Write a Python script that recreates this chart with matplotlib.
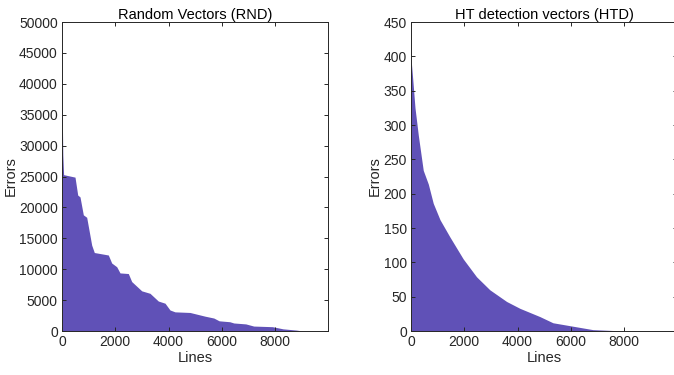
import matplotlib.pyplot as plt

# ======= values (line index, error count) =======
rnd_lines = [0, 10, 30, 60, 488, 590, 676, 800, 927, 1115, 1213, 1739, 1866,
             2054, 2178, 2490, 2617, 2993, 3304, 3616, 3868, 4055, 4243,
             4806, 5370, 5700, 5900, 6300, 6450, 6900, 7200, 7900, 8300,
             8800, 9050, 9990]
rnd_errors = [37700, 35000, 28500, 25300, 24900, 22000, 21700, 18800, 18400,
              13900, 12700, 12300, 11000, 10400, 9400, 9300, 8000, 6500, 6100,
              4850, 4500, 3400, 3100, 3000, 2400, 2100, 1650, 1500, 1300,
              1150, 800, 700, 350, 150, 0, 0]

htd_lines = [0, 75, 150, 275, 460, 650, 835, 1090, 1460, 1960, 2460, 2960,
             3590, 4090, 4840, 5330, 6080, 6830, 7730, 8000, 9990]
htd_errors = [397, 362, 325, 285, 234, 214, 186, 162, 137, 105, 79, 60,
              43, 33, 21, 12, 7, 2, 0.5, 0, 0]

titles = ["Random Vectors (RND)", "HT detection vectors (HTD)"]
y_max = [50000, 450]
y_step = [5000, 50]
# =======================================================================

plt.rcParams['font.family'] = ['Liberation Sans', 'DejaVu Sans']
bar_color = '#6051b7'
dark = '#262626'

fig = plt.figure(figsize=(6.74, 3.75), dpi=100)
ax1 = fig.add_axes([0.092, 0.1173, 0.3947, 0.824])
ax2 = fig.add_axes([0.6098, 0.1173, 0.3947, 0.824])

for ax, xs, ys, title, ym, ys_step in zip(
        [ax1, ax2], [rnd_lines, htd_lines], [rnd_errors, htd_errors],
        titles, y_max, y_step):
    ax.fill_between(xs, ys, 0, color=bar_color, linewidth=0)
    ax.set_xlim(0, 9990)
    ax.set_ylim(0, ym)
    ax.set_xticks(range(0, 9000, 2000))
    ax.set_yticks(range(0, ym + 1, ys_step))
    ax.tick_params(direction='in', top=True, right=True, length=3,
                   width=0.7, colors=dark, labelsize=10, pad=3)
    for s in ax.spines.values():
        s.set_color(dark)
        s.set_linewidth(0.7)
    ax.set_title(title, fontsize=10.5, color='black', pad=2)
    ax.set_xlabel("Lines", fontsize=10.5, color=dark, labelpad=1)
    ax.set_ylabel("Errors", fontsize=10.5, color=dark, labelpad=1)

fig.savefig("out.png", dpi=100)
